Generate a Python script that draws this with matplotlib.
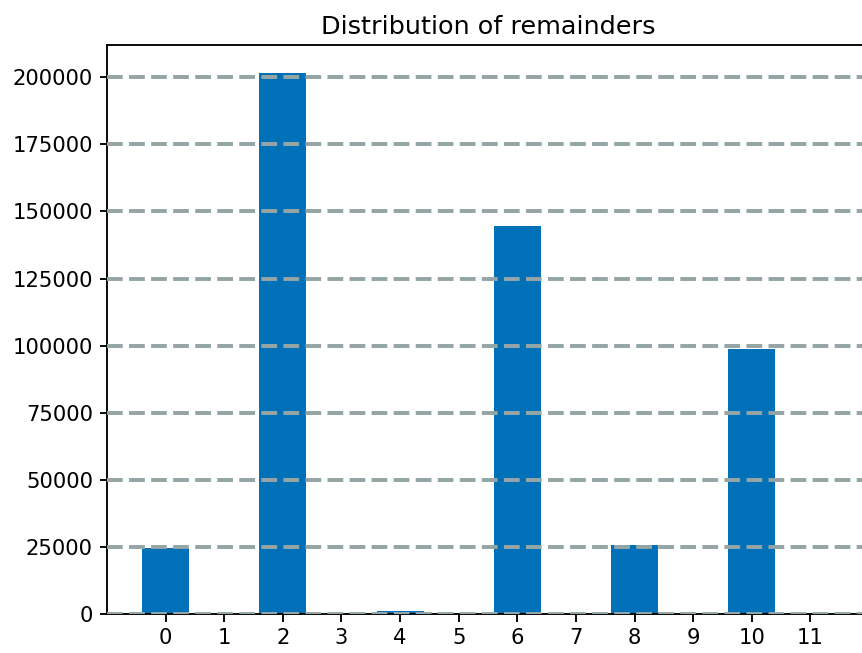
import matplotlib.pyplot as plt

remainders = list(range(12))
counts = [24600, 0, 201700, 0, 1000, 0, 144600, 0, 25700, 0, 98700, 0]
y_ticks = [0, 25000, 50000, 75000, 100000, 125000, 150000, 175000, 200000]


def main() -> None:
    dpi = 135
    fig = plt.figure(figsize=(862 / dpi, 653 / dpi), dpi=dpi)
    ax = fig.add_axes([0.1241, 0.0597, 0.884, 0.8714])
    ax.bar(remainders, counts, width=0.8, color="#0070b8", zorder=2)
    ax.yaxis.grid(True, color="#95a5a6", linestyle=(0, (4.0, 1.6)),
                  linewidth=2.1, zorder=3)
    ax.set_axisbelow(False)
    ax.set_xticks(remainders)
    ax.set_yticks(y_ticks)
    ax.tick_params(labelsize=11.3, length=4, width=1.0)
    for spine in ax.spines.values():
        spine.set_linewidth(1.0)
    ax.set_xlim(-1, 12)
    ax.set_ylim(0, 212000)
    ax.set_title("Distribution of remainders", fontsize=13.6)
    fig.savefig("out.png", dpi=dpi)


if __name__ == "__main__":
    main()
